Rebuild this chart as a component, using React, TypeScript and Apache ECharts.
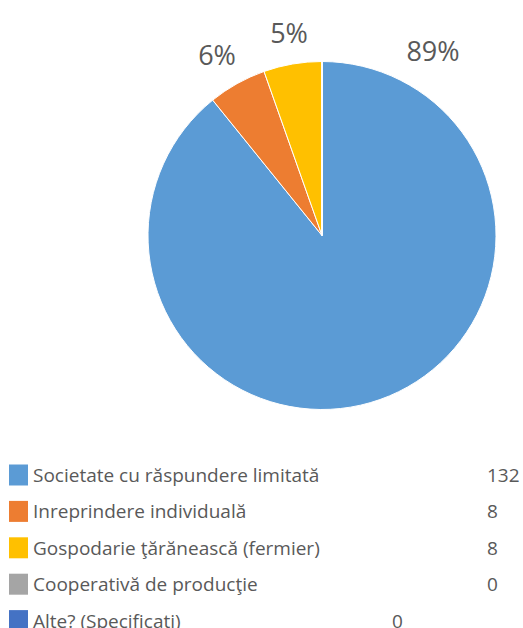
import React, { useEffect, useRef } from "react";
import * as echarts from "echarts";

const categories = [
  "Societate cu răspundere limitată",
  "Inreprindere individuală",
  "Gospodarie ţărănească (fermier)",
  "Cooperativă de producţie",
  "Alte? (Specificaţi)",
];
const values = [132, 8, 8, 0, 0];
const colors = ["#5B9BD5", "#ED7D31", "#FFC000", "#A5A5A5", "#4472C4"];

const labelPos: Record<number, [number, number]> = {
  0: [433, 50],
  1: [217, 54],
  2: [289, 32],
};
const valueColX = [487, 487, 487, 487, 392];
const FONT = "'Open Sans', sans-serif";

export default function App() {
  const ref = useRef<HTMLDivElement>(null);
  useEffect(() => {
    if (!ref.current) return;
    const chart = echarts.init(ref.current, undefined, { renderer: "svg" });
    const rowCenter0 = 475;
    const rowPitch = 36.4;
    const graphics: any[] = [];
    categories.forEach((c, i) => {
      const cy = rowCenter0 + i * rowPitch;
      graphics.push({
        type: "rect",
        shape: { x: 9, y: cy - 10.5, width: 19, height: 21 },
        style: { fill: colors[i] },
      });
      graphics.push({
        type: "text",
        x: 33,
        y: cy,
        style: {
          text: c,
          fontSize: 19,
          fill: "#595959",
          fontFamily: FONT,
          verticalAlign: "middle",
          align: "left",
        },
      });
      graphics.push({
        type: "text",
        x: valueColX[i],
        y: cy,
        style: {
          text: String(values[i]),
          fontSize: 19,
          fill: "#595959",
          fontFamily: FONT,
          verticalAlign: "middle",
          align: "left",
        },
      });
    });
    chart.setOption({
      animation: false,
      color: colors,
      textStyle: { fontFamily: FONT },
      graphic: graphics,
      series: [
        {
          type: "pie",
          center: [322, 235.5],
          radius: [0, 174],
          startAngle: 90,
          clockwise: true,
          avoidLabelOverlap: false,
          itemStyle: { borderColor: "#ffffff", borderWidth: 1 },
          label: {
            show: true,
            position: "outside",
            fontSize: 27,
            color: "#595959",
            fontFamily: FONT,
            formatter: (p: any) => (p.value === 0 ? "" : p.percent + "%"),
          },
          percentPrecision: 0,
          labelLine: { show: false },
          labelLayout: (params: any) => {
            const pos = labelPos[params.dataIndex];
            if (!pos) return {};
            return { x: pos[0], y: pos[1], align: "center", verticalAlign: "middle" };
          },
          emphasis: { disabled: true },
          data: categories.map((c, i) => ({ name: c, value: values[i] })),
        },
      ],
    });
    return () => chart.dispose();
  }, []);
  return (
    <div
      ref={ref}
      style={{ position: "fixed", left: 0, top: 0, width: 523, height: 628, background: "#fff" }}
    />
  );
}
